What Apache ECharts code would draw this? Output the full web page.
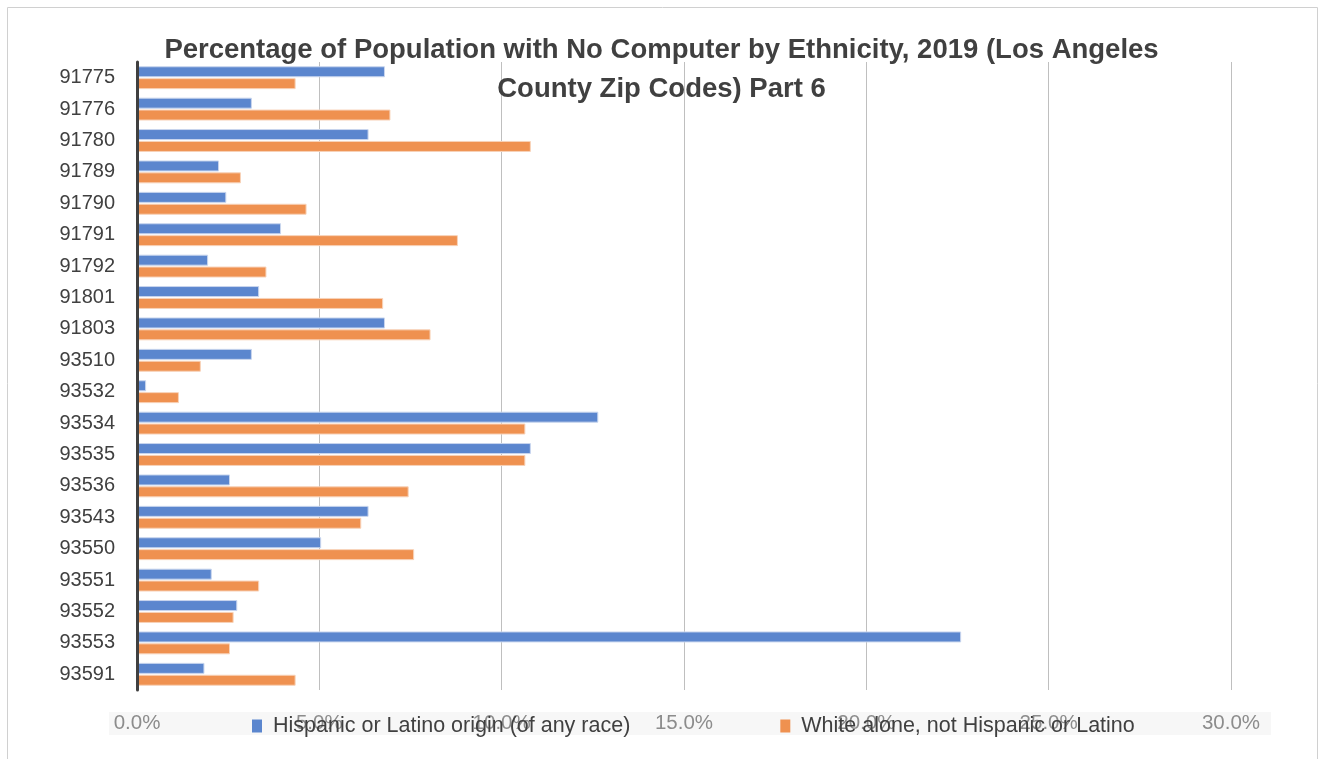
<!DOCTYPE html>
<html>
<head>
<meta charset="utf-8">
<script src="https://cdn.jsdelivr.net/npm/echarts@6/dist/echarts.min.js"></script>
<style>
  html, body { margin: 0; padding: 0; background: #fff; }
  #main { width: 1323px; height: 759px; }
</style>
</head>
<body>
<div id="main"></div>
<script>
// zip codes, top to bottom
const zipCodes = ['91775', '91776', '91780', '91789', '91790', '91791', '91792', '91801', '91803', '93510',
  '93532', '93534', '93535', '93536', '93543', '93550', '93551', '93552', '93553', '93591'];

// percent with no computer
const hispanicValues = [6.8, 3.15, 6.35, 2.25, 2.45, 3.95, 1.95, 3.35, 6.8, 3.15,
  0.25, 12.65, 10.8, 2.55, 6.35, 5.05, 2.05, 2.75, 22.6, 1.85];
const whiteValues = [4.35, 6.95, 10.8, 2.85, 4.65, 8.8, 3.55, 6.75, 8.05, 1.75,
  1.15, 10.65, 10.65, 7.45, 6.15, 7.6, 3.35, 2.65, 2.55, 4.35];

const seriesNames = ['Hispanic or Latino origin (of any race)', 'White alone, not Hispanic or Latino'];
const xTicks = { min: 0, max: 30, step: 5 };

const font = 'Liberation Sans, sans-serif';
const chart = echarts.init(document.getElementById('main'));

const option = {
  animation: false,
  title: {
    text: 'Percentage of Population with No Computer by Ethnicity, 2019 (Los Angeles\nCounty Zip Codes) Part 6',
    left: 'center',
    top: 26,
    textStyle: {
      fontFamily: font,
      fontWeight: 'bold',
      fontSize: 27.5,
      lineHeight: 39,
      color: '#404040'
    }
  },
  graphic: [
    {
      type: 'rect',
      z: -10,
      shape: { x: 7.5, y: 7.5, width: 1310, height: 760 },
      style: { fill: 'none', stroke: '#d0d0d0', lineWidth: 1 }
    },
    {
      type: 'rect',
      z: -10,
      shape: { x: 109, y: 712, width: 1162, height: 23 },
      style: { fill: '#f7f7f7' }
    }
  ],
  legend: {
    data: seriesNames,
    left: 252,
    top: 715,
    padding: 0,
    itemWidth: 10,
    itemHeight: 13,
    itemGap: 150,
    icon: 'rect',
    itemStyle: { borderWidth: 0 },
    textStyle: {
      fontFamily: font,
      fontSize: 21.5,
      color: '#404040',
      padding: [0, 0, 0, 6]
    }
  },
  grid: {
    left: 137,
    right: 92,
    top: 62,
    bottom: 69,
    containLabel: false
  },
  xAxis: {
    type: 'value',
    min: xTicks.min,
    max: xTicks.max,
    interval: xTicks.step,
    axisLine: { show: false },
    axisTick: { show: false },
    axisLabel: {
      formatter: v => v.toFixed(1) + '%',
      fontFamily: font,
      fontSize: 20.5,
      color: '#8c8c8c',
      margin: 23
    },
    splitLine: { lineStyle: { color: '#bfbfbf', width: 1 } }
  },
  yAxis: {
    type: 'category',
    data: zipCodes,
    inverse: true,
    z: 5,
    axisLine: { lineStyle: { color: '#404040', width: 3 } },
    axisTick: { show: false },
    axisLabel: {
      fontFamily: font,
      fontSize: 20,
      color: '#404040',
      margin: 22
    }
  },
  series: [
    {
      name: seriesNames[0],
      type: 'bar',
      data: hispanicValues,
      barWidth: 11,
      barGap: '8%',
      itemStyle: { color: '#5b86ce', borderColor: '#c9d6ee', borderWidth: 1 }
    },
    {
      name: seriesNames[1],
      type: 'bar',
      data: whiteValues,
      barWidth: 11,
      barGap: '8%',
      itemStyle: { color: '#ef9150', borderColor: '#f8d3b9', borderWidth: 1 }
    }
  ]
};

chart.setOption(option);
</script>
</body>
</html>
